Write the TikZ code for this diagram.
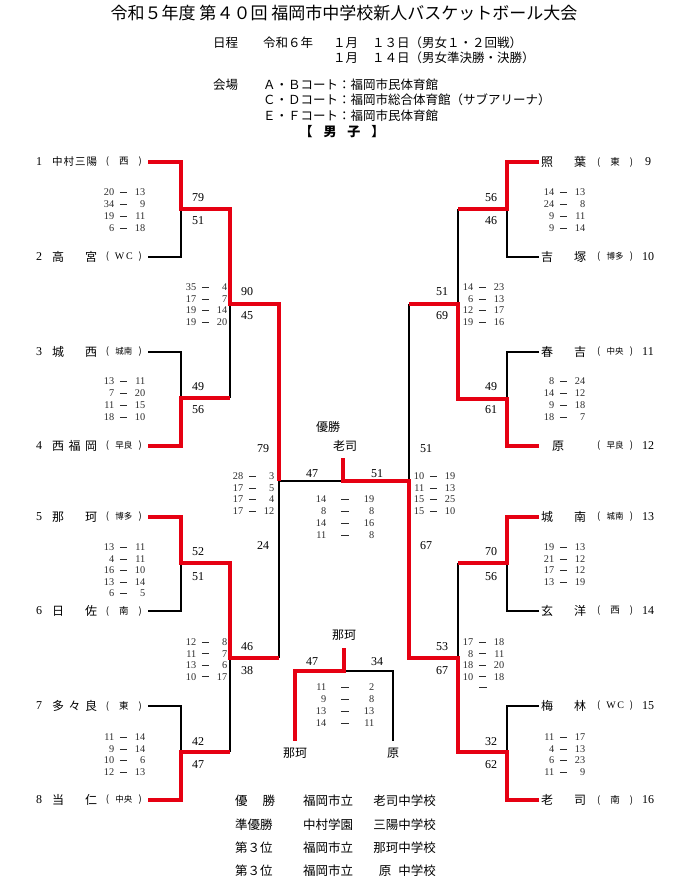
\documentclass[tikz,border=0pt]{standalone}
\usepackage{fontspec}
\setmainfont{Liberation Serif}
\newfontfamily\jp{Noto Sans CJK JP}
\definecolor{bred}{RGB}{230,0,18}
\definecolor{sgray}{RGB}{45,45,45}
\newcommand\dsh{\rule[3.1pt]{7.5pt}{0.5pt}}
\newcommand\srow[2]{\makebox[11pt][r]{#1}\makebox[19pt]{\dsh}\makebox[12pt][r]{#2}}
\newcommand\frow[2]{\makebox[11pt][r]{#1}\makebox[38pt]{\dsh}\makebox[10pt][r]{#2}}
\newcommand\nmbox[1]{\makebox[45pt][s]{#1}}
\newcommand\afbox[1]{\makebox[36pt][s]{#1}}
\newcommand\smf{\fontsize{8.5}{10}\selectfont}
\tikzset{
  win/.style={draw=bred, line width=3.8pt},
  lose/.style={draw=black, line width=1.8pt},
  sc/.style={inner sep=0pt, font=\fontsize{10.3}{12}\selectfont, text=sgray},
  num/.style={inner sep=0pt, font=\fontsize{12}{14}\selectfont},
  tname/.style={inner sep=0pt, font=\jp\fontsize{12}{14}\selectfont},
  aff/.style={inner sep=0pt, font=\jp\fontsize{9.5}{11}\selectfont},
  jtxt/.style={inner sep=0pt, font=\jp\fontsize{12.5}{14}\selectfont},
  ctxt/.style={inner sep=0pt, font=\jp\fontsize{12}{14}\selectfont},
}
% score block: name, row macro, x, y of first row centre, spacing, list
\newcommand\scoreblock[6]{%
  \foreach \a/\b [count=\i] in {#6} {%
    \node[sc,anchor=base west] (#1-\i) at (#3,{#4+3.5+(\i-1)*#5}) {#2{\a}{\b}};}}
\newcommand\lteam[5]{%
  \node[num] (#1n) at (39,#2) {#3};
  \node[tname,anchor=west] (#1) at (52,#2) {\nmbox{#4}};
  \node[aff,anchor=east] (#1a) at (142,#2) {\afbox{#5}};
  \coordinate (#1e) at (148,#2);}
\newcommand\rteam[5]{%
  \coordinate (#1e) at (539,#2);
  \node[tname,anchor=west] (#1) at (541,#2) {\nmbox{#4}};
  \node[aff,anchor=west] (#1a) at (597,#2) {\afbox{#5}};
  \node[num] (#1n) at (648,#2) {#3};}

\begin{document}
\begin{tikzpicture}[x=1pt,y=-1pt]
\useasboundingbox (0,0) rectangle (689,879);
\fill[white] (0,0) rectangle (689,879);

% ---------- header ----------
\node[inner sep=0pt,font=\jp\fontsize{17}{19}\selectfont] (title) at (344,13)
  {令和５年度 第４０回 福岡市中学校新人バスケットボール大会};
\node[jtxt,anchor=west] (sch) at (213,43) {日程};
\node[jtxt,anchor=west] (sch0) at (263,43) {令和６年};
\node[jtxt,anchor=west] (mon1) at (333,43) {１月};
\node[jtxt,anchor=west] (day1) at (372,43) {１３日（男女１・２回戦）};
\node[jtxt,anchor=west] (mon2) at (333,58) {１月};
\node[jtxt,anchor=west] (day2) at (372,58) {１４日（男女準決勝・決勝）};
\node[jtxt,anchor=west] (ven) at (213,85) {会場};
\node[jtxt,anchor=west] (ven1) at (263,85) {Ａ・Ｂコート：福岡市民体育館};
\node[jtxt,anchor=west] (ven2) at (263,100) {Ｃ・Ｄコート：福岡市総合体育館（サブアリーナ）};
\node[jtxt,anchor=west] (ven3) at (263,116) {Ｅ・Ｆコート：福岡市民体育館};
\node[inner sep=0pt,font=\jp\bfseries\fontsize{13}{15}\selectfont] (men) at (342,132)
  {\makebox[85pt][s]{【\hfill 男\hfill 子\hfill 】}};

% ---------- teams ----------
\lteam{t1}{162}{1}{{\fontsize{10.5}{12}\selectfont 中\hfill 村\hfill 三\hfill 陽}}{(\hfill 西\hfill)}
\lteam{t2}{257}{2}{高\hfill 宮}{(\hfill{\rmfamily\fontsize{10}{12}\selectfont W\,C}\hfill)}
\lteam{t3}{352}{3}{城\hfill 西}{(\hfill{\smf 城南}\hfill)}
\lteam{t4}{446}{4}{西\hfill 福\hfill 岡}{(\hfill{\smf 早良}\hfill)}
\lteam{t5}{517}{5}{那\hfill 珂}{(\hfill{\smf 博多}\hfill)}
\lteam{t6}{611}{6}{日\hfill 佐}{(\hfill 南\hfill)}
\lteam{t7}{706}{7}{多\hfill 々\hfill 良}{(\hfill 東\hfill)}
\lteam{t8}{800}{8}{当\hfill 仁}{(\hfill{\smf 中央}\hfill)}
\rteam{t9}{162}{9}{照\hfill 葉}{(\hfill 東\hfill)}
\rteam{t10}{257}{10}{吉\hfill 塚}{(\hfill{\smf 博多}\hfill)}
\rteam{t11}{352}{11}{春\hfill 吉}{(\hfill{\smf 中央}\hfill)}
\rteam{t12}{446}{12}{\hfill 原\hfill\hfill}{(\hfill{\smf 早良}\hfill)}
\rteam{t13}{517}{13}{城\hfill 南}{(\hfill{\smf 城南}\hfill)}
\rteam{t14}{611}{14}{玄\hfill 洋}{(\hfill 西\hfill)}
\rteam{t15}{706}{15}{梅\hfill 林}{(\hfill{\rmfamily\fontsize{10}{12}\selectfont W\,C}\hfill)}
\rteam{t16}{800}{16}{老\hfill 司}{(\hfill 南\hfill)}

% ---------- junctions ----------
\coordinate (a1) at (181,209);
\coordinate (a2) at (181,398);
\coordinate (a3) at (181,563);
\coordinate (a4) at (181,752);
\coordinate (b1) at (230,304);
\coordinate (b2) at (230,658);
\coordinate (c1) at (279,481);
\coordinate (a5) at (507,209);
\coordinate (a6) at (507,399);
\coordinate (a7) at (507,563);
\coordinate (a8) at (507,752);
\coordinate (b3) at (458,304);
\coordinate (b4) at (458,658);
\coordinate (c2) at (409,481);
\coordinate (f) at (343,481);
\coordinate (ftop) at (343,458);
\coordinate (h) at (344,671);
\coordinate (htop) at (344,648);
\coordinate (hl) at (295,741);
\coordinate (hr) at (393,741);

% ---------- losing lines ----------
\draw[lose] (t2e) -| (a1);
\draw[lose] (t3e) -| (a2);
\draw[lose] (t6e) -| (a3);
\draw[lose] (t7e) -| (a4);
\draw[lose] (b1) -- (b1 |- a2);
\draw[lose] (b2) -- (b2 |- a4);
\draw[lose] (c1) -- (c1 |- b2);
\draw[lose] (c1) -- (f);
\draw[lose] (t10e) -| (a5);
\draw[lose] (t11e) -| (a6);
\draw[lose] (t14e) -| (a7);
\draw[lose] (t15e) -| (a8);
\draw[lose] (b3 |- a5) -- (b3);
\draw[lose] (b4 |- a7) -- (b4);
\draw[lose] (c2 |- b3) -- (c2);
\draw[lose] (h) -| (hr);

% ---------- winning lines ----------
\draw[win] (t1e) -| (a1) -- (a1 -| b1) -- (b1) -- (b1 -| c1) -- (c1);
\draw[win] (t4e) -| (a2) -- (a2 -| b1);
\draw[win] (t5e) -| (a3) -- (a3 -| b2) -- (b2) -- (b2 -| c1);
\draw[win] (t8e) -| (a4) -- (a4 -| b2);
\draw[win] (t9e) -| (a5) -- (a5 -| b3);
\draw[win] (t12e) -| (a6) -- (a6 -| b3) -- (b3) -- (b3 -| c2);
\draw[win] (t13e) -| (a7) -- (a7 -| b4);
\draw[win] (t16e) -| (a8) -- (a8 -| b4) -- (b4) -- (b4 -| c2) -- (c2) -- (f) -- (ftop);
\draw[win] (htop) -- (h) -| (hl);

% ---------- game scores ----------
\node[num] (g1a) at (198,198) {79};  \node[num] (g1b) at (198,221) {51};
\node[num] (g2a) at (198,387) {49};  \node[num] (g2b) at (198,410) {56};
\node[num] (g3a) at (198,552) {52};  \node[num] (g3b) at (198,577) {51};
\node[num] (g4a) at (198,742) {42};  \node[num] (g4b) at (198,765) {47};
\node[num] (g5a) at (247,292) {90};  \node[num] (g5b) at (247,316) {45};
\node[num] (g6a) at (247,647) {46};  \node[num] (g6b) at (247,671) {38};
\node[num] (g7a) at (263,449) {79};  \node[num] (g7b) at (263,546) {24};
\node[num] (g8a) at (491,198) {56};  \node[num] (g8b) at (491,221) {46};
\node[num] (g9a) at (491,387) {49};  \node[num] (g9b) at (491,410) {61};
\node[num] (g10a) at (491,552) {70}; \node[num] (g10b) at (491,577) {56};
\node[num] (g11a) at (491,742) {32}; \node[num] (g11b) at (491,765) {62};
\node[num] (g12a) at (442,292) {51}; \node[num] (g12b) at (442,316) {69};
\node[num] (g13a) at (442,647) {53}; \node[num] (g13b) at (442,671) {67};
\node[num] (g14a) at (426,449) {51}; \node[num] (g14b) at (426,546) {67};
\node[num] (g15a) at (312,474) {47}; \node[num] (g15b) at (377,474) {51};
\node[num] (g16a) at (312,662) {47}; \node[num] (g16b) at (377,662) {34};

% ---------- period scores ----------
\scoreblock{s1}{\srow}{103}{192}{11.9}{20/13,34/9,19/11,6/18}
\scoreblock{s2}{\srow}{103}{381}{11.9}{13/11,7/20,11/15,18/10}
\scoreblock{s3}{\srow}{103}{547}{11.6}{13/11,4/11,16/10,13/14,6/5}
\scoreblock{s4}{\srow}{103}{737}{11.6}{11/14,9/14,10/6,12/13}
\scoreblock{s5}{\srow}{185}{287}{11.7}{35/4,17/7,19/14,19/20}
\scoreblock{s6}{\srow}{185}{642}{11.5}{12/8,11/7,13/6,10/17}
\scoreblock{s7}{\srow}{232}{476}{11.7}{28/3,17/5,17/4,17/12}
\scoreblock{s8}{\srow}{413}{476}{11.7}{10/19,11/13,15/25,15/10}
\scoreblock{s9}{\srow}{462}{287}{11.7}{14/23,6/13,12/17,19/16}
\scoreblock{s10}{\srow}{462}{642}{11.5}{17/18,8/11,18/20,10/18}
\node[sc] (s10x) at (483,689) {\dsh};
\scoreblock{s11}{\srow}{543}{192}{11.9}{14/13,24/8,9/11,9/14}
\scoreblock{s12}{\srow}{543}{381}{11.9}{8/24,14/12,9/18,18/7}
\scoreblock{s13}{\srow}{543}{547}{11.7}{19/13,21/12,17/12,13/19}
\scoreblock{s14}{\srow}{543}{737}{11.6}{11/17,4/13,6/23,11/9}
\scoreblock{s15}{\frow}{315}{499}{12}{14/19,8/8,14/16,11/8}
\scoreblock{s16}{\frow}{315}{687}{12}{11/2,9/8,13/13,14/11}

% ---------- centre labels ----------
\node[ctxt] (champlab) at (328,427) {優勝};
\node[ctxt] (champ) at (345,446) {老司};
\node[ctxt] (third) at (344,635) {那珂};
\node[ctxt] (thl) at (295,753) {那珂};
\node[ctxt] (thr) at (393,753) {原};

% ---------- results ----------
\foreach \lab/\org/\sch [count=\k] in {
  {優\hfill 勝}/福岡市立/老司中学校,
  {準優勝}/中村学園/三陽中学校,
  {第３位}/福岡市立/那珂中学校,
  {第３位}/福岡市立/{原\hspace{7pt}中学校}} {
  \node[jtxt,anchor=west] (rl\k) at (235,{801+(\k-1)*23.4}) {\makebox[40pt][s]{\lab}};
  \node[jtxt,anchor=west] (ro\k) at (303,{801+(\k-1)*23.4}) {\org};
  \node[jtxt,anchor=east] (rs\k) at (436,{801+(\k-1)*23.4}) {\sch};
}
\end{tikzpicture}
\end{document}
